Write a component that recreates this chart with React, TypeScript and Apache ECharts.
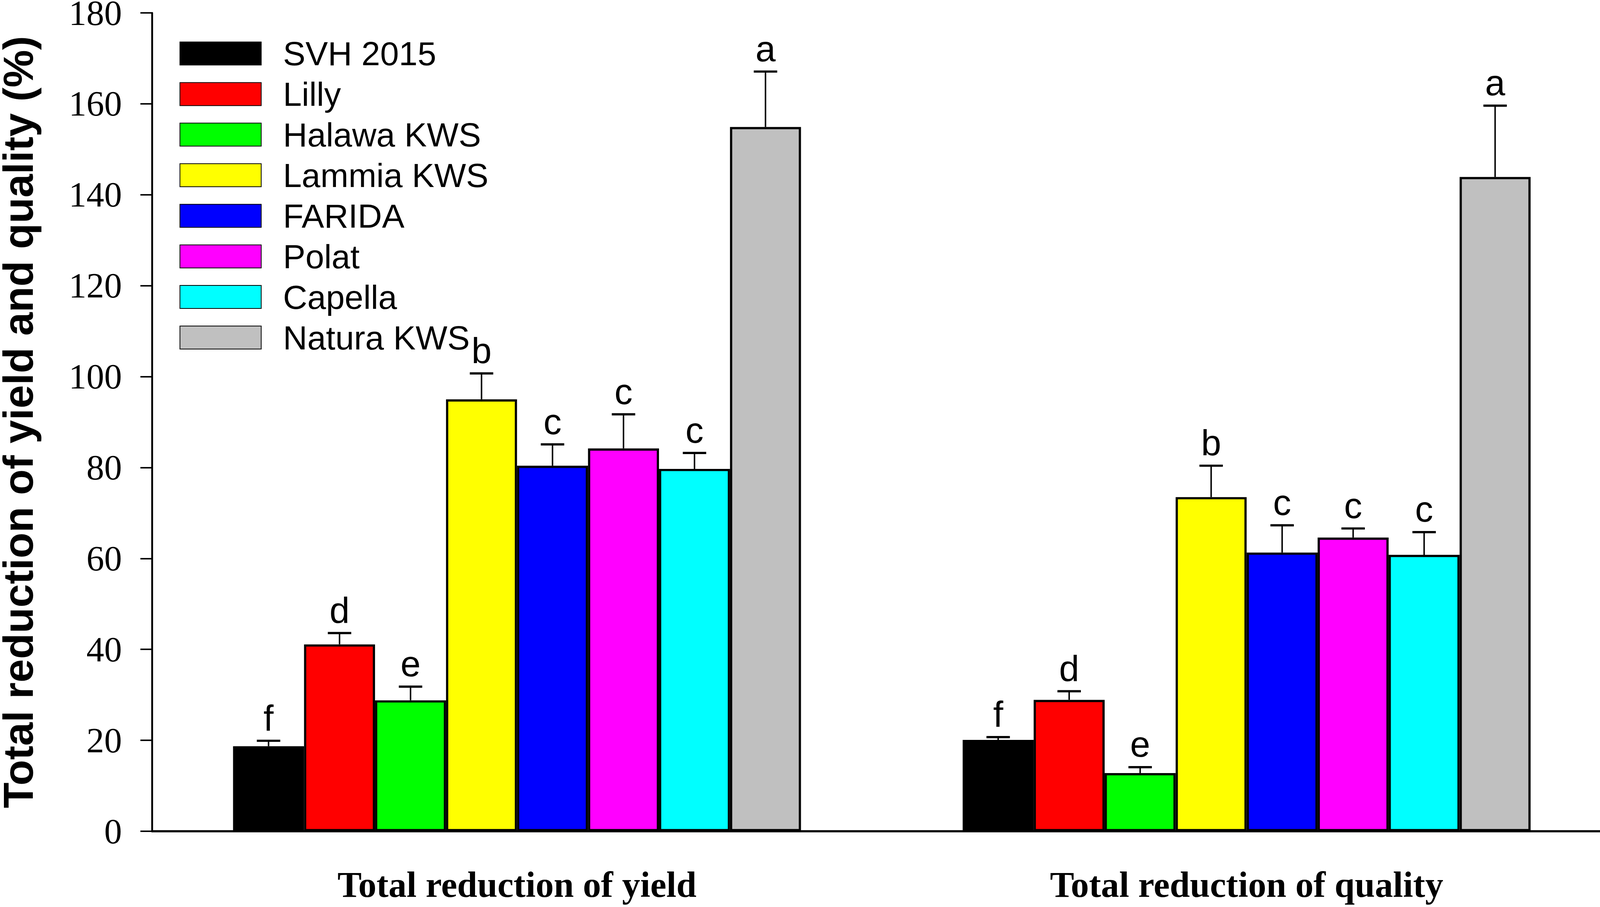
import React, { useEffect, useRef } from "react";
import * as echarts from "echarts";

const categories = ["Total reduction of yield", "Total reduction of quality"];
const varieties = ["SVH 2015", "Lilly", "Halawa KWS", "Lammia KWS", "FARIDA", "Polat", "Capella", "Natura KWS"];
const colors = ["#000000", "#ff0000", "#00ff00", "#ffff00", "#0000ff", "#ff00ff", "#00ffff", "#c0c0c0"];

// means and standard errors per variety
const yieldMeans = [18.7, 41.1, 28.8, 95.0, 80.4, 84.2, 79.7, 154.9];
const yieldSE = [1.2, 2.5, 3.0, 5.7, 4.7, 7.5, 3.5, 12.2];
const qualityMeans = [20.1, 28.9, 12.8, 73.5, 61.3, 64.6, 60.8, 143.9];
const qualitySE = [0.6, 1.9, 1.3, 6.9, 6.0, 2.0, 5.0, 15.7];
const yieldLetters = ["f", "d", "e", "b", "c", "c", "c", "a"];
const qualityLetters = ["f", "d", "e", "b", "c", "c", "c", "a"];

const yTicks = { min: 0, max: 180, interval: 20 };

const SANS = "'Liberation Sans', Arial, sans-serif";
const SERIF = "'Liberation Serif', 'Times New Roman', serif";
const BAR_FRAC = 0.0973;
const REF_W = 4331;
const REF_H = 2323;

export default function App() {
  const ref = useRef<HTMLDivElement>(null);
  const W = typeof window !== "undefined" && window.innerWidth ? window.innerWidth : REF_W;
  const H = typeof window !== "undefined" && window.innerHeight ? window.innerHeight : REF_H;
  const sx = W / REF_W;
  const sy = H / REF_H;
  const fs = Math.min(sx, sy);

  useEffect(() => {
    if (!ref.current) return;
    const chart = echarts.init(ref.current, undefined, { renderer: "svg" });
    const n = varieties.length;
    const barSeries = varieties.map((name, i) => ({
      type: "bar",
      name,
      data: [yieldMeans[i], qualityMeans[i]],
      barWidth: (BAR_FRAC * 100).toFixed(2) + "%",
      barGap: "0%",
      itemStyle: { color: colors[i], borderColor: "#000", borderWidth: 6 * fs },
      z: 2,
    }));
    const letterSize = 98 * fs;
    const errSeries = varieties.map((name, i) => ({
      type: "custom",
      name: "err-" + name,
      z: 3,
      data: [
        [0, yieldMeans[i], yieldSE[i]],
        [1, qualityMeans[i], qualitySE[i]],
      ],
      encode: { x: 0, y: 1 },
      renderItem: (params: any, api: any) => {
        const cat = api.value(0);
        const mean = api.value(1);
        const se = api.value(2);
        const band = api.size([1, 0])[0];
        const bw = band * BAR_FRAC;
        const base = api.coord([cat, mean]);
        const x = base[0] + (i - (n - 1) / 2) * bw;
        const top = api.coord([cat, mean + se])[1];
        const half = bw * 0.165;
        const letter = (params.dataIndex === 0 ? yieldLetters : qualityLetters)[i];
        return {
          type: "group",
          children: [
            { type: "line", shape: { x1: x, y1: base[1], x2: x, y2: top }, style: { stroke: "#000", lineWidth: 4 * fs } },
            { type: "line", shape: { x1: x - half, y1: top, x2: x + half, y2: top }, style: { stroke: "#000", lineWidth: 6 * fs } },
            {
              type: "text",
              x,
              y: top - 12 * sy,
              style: {
                text: letter,
                fill: "#000",
                font: `${letterSize}px ${SANS}`,
                textAlign: "center",
                textVerticalAlign: "bottom",
              },
            },
          ],
        };
      },
    }));

    const legendFont = 91 * fs;
    const itemH = 59 * sy;
    const itemW = 220 * sx;
    const legendLeft = 486 * sx;
    const legendTop = 107.5 * sy - (legendFont - itemH) / 2;
    const legendGap = 104 * sy - legendFont;
    const textPad = 765 * sx - (legendLeft + itemW) - 5;

    chart.setOption({
      animation: false,
      backgroundColor: "#ffffff",
      grid: {
        left: 412 * sx,
        top: 33 * sy,
        width: 3950 * sx,
        height: 2096 * sy,
        containLabel: false,
        outerBoundsMode: "none",
      },
      legend: {
        data: varieties,
        orient: "vertical",
        left: legendLeft,
        top: legendTop,
        padding: 0,
        itemWidth: itemW,
        itemHeight: itemH,
        itemGap: legendGap,
        icon: "rect",
        textStyle: { fontFamily: SANS, fontSize: legendFont, color: "#000", padding: [0, 0, 0, textPad] },
      },
      xAxis: {
        type: "category",
        data: categories,
        axisLine: { lineStyle: { color: "#000", width: 6 * fs } },
        axisTick: { alignWithLabel: true, length: 33 * sy, lineStyle: { color: "#000", width: 4 * fs } },
        axisLabel: {
          fontFamily: SERIF,
          fontWeight: "bold",
          fontSize: 98 * fs,
          lineHeight: 80 * fs,
          color: "#000",
          margin: 99 * sy,
        },
        splitLine: { show: false },
      },
      yAxis: {
        type: "value",
        min: yTicks.min,
        max: yTicks.max,
        interval: yTicks.interval,
        name: "Total reduction of yield and quality (%)",
        nameLocation: "middle",
        nameGap: 318 * sx,
        nameTextStyle: {
          fontFamily: SANS,
          fontWeight: "bold",
          fontSize: 108 * sy,
          lineHeight: 90 * sx,
          color: "#000",
        },
        axisLine: { show: true, lineStyle: { color: "#000", width: 5 * fs } },
        axisTick: { show: true, length: 32 * sx, lineStyle: { color: "#000", width: 4 * fs } },
        axisLabel: { fontFamily: SERIF, fontSize: 96 * fs, color: "#000", margin: 82 * sx, lineHeight: 60 * fs },
        splitLine: { show: false },
      },
      series: [...barSeries, ...errSeries],
    });
    return () => chart.dispose();
  }, []);

  return (
    <div
      style={{
        position: "absolute",
        left: 0,
        top: 0,
        width: W,
        height: H,
        overflow: "hidden",
        background: "#fff",
      }}
    >
      <div ref={ref} style={{ width: Math.ceil((W * 4400) / REF_W), height: H }} />
    </div>
  );
}
